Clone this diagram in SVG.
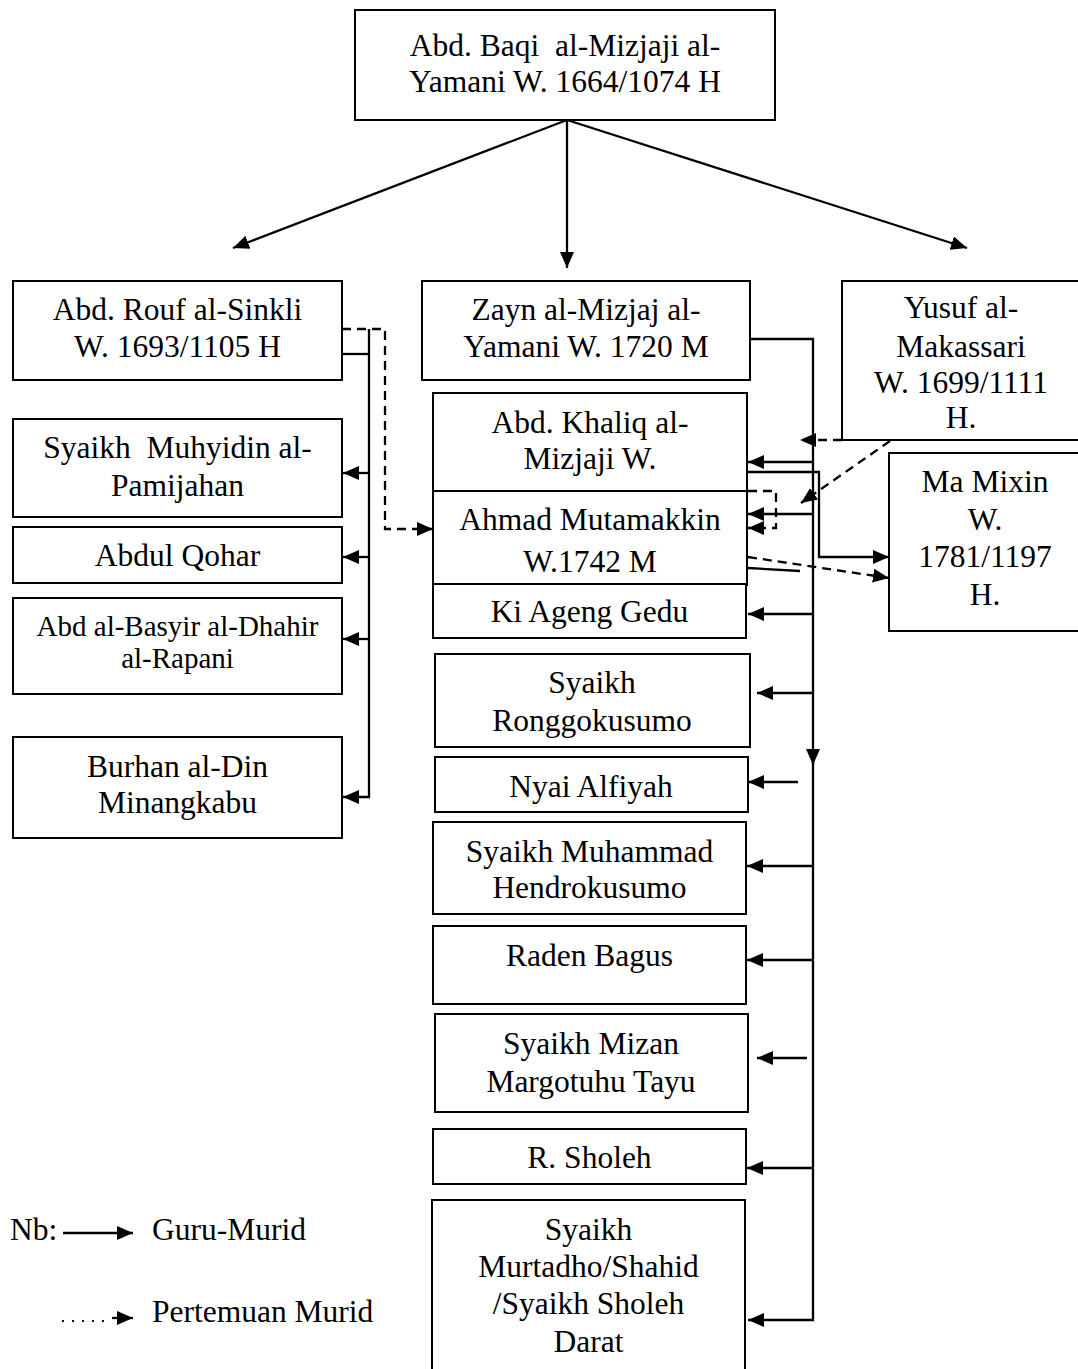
<svg xmlns="http://www.w3.org/2000/svg" width="1078" height="1369" viewBox="0 0 1078 1369">
<style>
  .box { fill: #fff; stroke: #000; stroke-width: 2; }
  .t { font-family: "Liberation Serif", "Times New Roman", serif; font-size: 31.5px; fill: #000; text-anchor: middle; }
  .ts { font-size: 29px; }
  .lg { text-anchor: start; }
  .c { fill: none; stroke: #000; stroke-width: 2.3; }
  .d { fill: none; stroke: #000; stroke-width: 2.3; stroke-dasharray: 9 6; }
  .dot { fill: none; stroke: #000; stroke-width: 2; stroke-dasharray: 2 8; }
</style>
<defs>
  <marker id="ah" markerUnits="userSpaceOnUse" markerWidth="18" markerHeight="15" refX="16" refY="7" orient="auto">
    <path d="M0,0 L16,7 L0,14 z" fill="#000"/>
  </marker>
</defs>
<rect width="1078" height="1369" fill="#fff"/>

<g id="n-abd-baqi">
  <rect class="box" x="355" y="10" width="420" height="110"/>
  <text class="t" x="565" y="56" xml:space="preserve">Abd. Baqi  al-Mizjaji al-</text>
  <text class="t" x="565" y="92">Yamani W. 1664/1074 H</text>
</g>
<g id="n-abd-rouf">
  <rect class="box" x="13" y="281" width="329" height="99"/>
  <text class="t" x="177.5" y="320">Abd. Rouf al-Sinkli</text>
  <text class="t" x="177.5" y="357">W. 1693/1105 H</text>
</g>
<g id="n-zayn">
  <rect class="box" x="422" y="281" width="328" height="99"/>
  <text class="t" x="586" y="320">Zayn al-Mizjaj al-</text>
  <text class="t" x="586" y="357">Yamani W. 1720 M</text>
</g>
<g id="n-yusuf">
  <rect class="box" x="842" y="281" width="240" height="159"/>
  <text class="t" x="961" y="318">Yusuf al-</text>
  <text class="t" x="961" y="357">Makassari</text>
  <text class="t" x="961" y="393">W. 1699/1111</text>
  <text class="t" x="961" y="428">H.</text>
</g>
<g id="n-muhyidin">
  <rect class="box" x="13" y="419" width="329" height="98"/>
  <text class="t" x="177.5" y="458" xml:space="preserve">Syaikh  Muhyidin al-</text>
  <text class="t" x="177.5" y="496">Pamijahan</text>
</g>
<g id="n-qohar">
  <rect class="box" x="13" y="527" width="329" height="56"/>
  <text class="t" x="177.5" y="566">Abdul Qohar</text>
</g>
<g id="n-basyir">
  <rect class="box" x="13" y="598" width="329" height="96"/>
  <text class="t ts" x="177.5" y="636">Abd al-Basyir al-Dhahir</text>
  <text class="t ts" x="177.5" y="668">al-Rapani</text>
</g>
<g id="n-burhan">
  <rect class="box" x="13" y="737" width="329" height="101"/>
  <text class="t" x="177.5" y="777">Burhan al-Din</text>
  <text class="t" x="177.5" y="813">Minangkabu</text>
</g>
<g id="n-khaliq">
  <rect class="box" x="433" y="393" width="314" height="98"/>
  <text class="t" x="590" y="433">Abd. Khaliq al-</text>
  <text class="t" x="590" y="469">Mizjaji W.</text>
</g>
<g id="n-ahmad">
  <rect class="box" x="433" y="491" width="314" height="94"/>
  <text class="t" x="590" y="530">Ahmad Mutamakkin</text>
  <text class="t" x="590" y="572">W.1742 M</text>
</g>
<g id="n-kiageng">
  <rect class="box" x="433" y="584" width="313" height="54"/>
  <text class="t" x="589.5" y="622">Ki Ageng Gedu</text>
</g>
<g id="n-mamixin">
  <rect class="box" x="889" y="453" width="193" height="178"/>
  <text class="t" x="985" y="492">Ma Mixin</text>
  <text class="t" x="985" y="530">W.</text>
  <text class="t" x="985" y="567">1781/1197</text>
  <text class="t" x="985" y="605">H.</text>
</g>
<g id="n-ronggo">
  <rect class="box" x="435" y="654" width="315" height="93"/>
  <text class="t" x="592" y="693">Syaikh</text>
  <text class="t" x="592" y="731">Ronggokusumo</text>
</g>
<g id="n-nyai">
  <rect class="box" x="435" y="757" width="313" height="55"/>
  <text class="t" x="591" y="797">Nyai Alfiyah</text>
</g>
<g id="n-hendro">
  <rect class="box" x="433" y="822" width="313" height="92"/>
  <text class="t" x="589.5" y="862">Syaikh Muhammad</text>
  <text class="t" x="589.5" y="898">Hendrokusumo</text>
</g>
<g id="n-raden">
  <rect class="box" x="433" y="926" width="313" height="78"/>
  <text class="t" x="589.5" y="966">Raden Bagus</text>
</g>
<g id="n-mizan">
  <rect class="box" x="435" y="1014" width="313" height="98"/>
  <text class="t" x="591" y="1054">Syaikh Mizan</text>
  <text class="t" x="591" y="1092">Margotuhu Tayu</text>
</g>
<g id="n-rsholeh">
  <rect class="box" x="433" y="1129" width="313" height="55"/>
  <text class="t" x="589.5" y="1168">R. Sholeh</text>
</g>
<g id="n-murtadho">
  <rect class="box" x="432" y="1200" width="313" height="190"/>
  <text class="t" x="588.5" y="1240">Syaikh</text>
  <text class="t" x="588.5" y="1277">Murtadho/Shahid</text>
  <text class="t" x="588.5" y="1314">/Syaikh Sholeh</text>
  <text class="t" x="588.5" y="1352">Darat</text>
</g>

<g id="connectors">
  <line class="c" x1="567" y1="120" x2="233" y2="248" marker-end="url(#ah)"/>
  <line class="c" x1="567" y1="120" x2="567" y2="268" marker-end="url(#ah)"/>
  <line class="c" x1="567" y1="120" x2="967" y2="248" marker-end="url(#ah)"/>

  <path class="c" d="M342,354 H369"/>
  <path class="c" d="M369,329 V797 H343" marker-end="url(#ah)"/>
  <path class="c" d="M369,473 H343" marker-end="url(#ah)"/>
  <path class="c" d="M369,557 H343" marker-end="url(#ah)"/>
  <path class="c" d="M369,639 H343" marker-end="url(#ah)"/>
  <path class="d" d="M342,329 H385 V529 H433" marker-end="url(#ah)"/>

  <path class="c" d="M750,339 H813 V765" marker-end="url(#ah)"/>
  <path class="c" d="M813,752 V1320 H748" marker-end="url(#ah)"/>
  <path class="c" d="M813,462 H748" marker-end="url(#ah)"/>
  <path class="c" d="M813,514 H748" marker-end="url(#ah)"/>
  <path class="c" d="M813,614 H748" marker-end="url(#ah)"/>
  <path class="c" d="M813,693 H757" marker-end="url(#ah)"/>
  <path class="c" d="M798,782 H748" marker-end="url(#ah)"/>
  <path class="c" d="M813,866 H747" marker-end="url(#ah)"/>
  <path class="c" d="M813,960 H747" marker-end="url(#ah)"/>
  <path class="c" d="M807,1058 H757" marker-end="url(#ah)"/>
  <path class="c" d="M813,1168 H747" marker-end="url(#ah)"/>
  <path class="c" d="M748,472 H819 V557 H889" marker-end="url(#ah)"/>
  <path class="d" d="M842,440 H800" marker-end="url(#ah)"/>
  <path class="d" d="M890,441 L801,503" marker-end="url(#ah)"/>
  <path class="d" d="M748,491 H776 V528 H748" marker-end="url(#ah)"/>
  <path class="d" d="M748,557 L889,578" marker-end="url(#ah)"/>
  <path class="c" d="M748,568 L800,571" stroke-width="1.5"/>
</g>

<g id="legend">
  <text class="t lg" x="10" y="1240">Nb:</text>
  <path class="c" d="M63,1233 H133" marker-end="url(#ah)"/>
  <text class="t lg" x="152" y="1240">Guru-Murid</text>
  <path class="dot" d="M62,1321 H112"/>
  <path class="c" d="M112,1318 H133" marker-end="url(#ah)" stroke-width="0"/>
  <text class="t lg" x="152" y="1322">Pertemuan Murid</text>
</g>
</svg>
